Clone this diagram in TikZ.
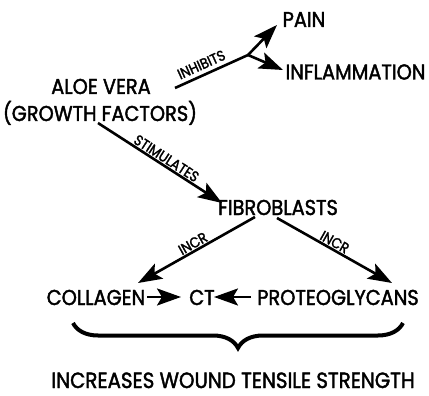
\documentclass[tikz,border=0pt]{standalone}
\usepackage{fontspec}
\setmainfont[FakeStretch=0.9,FakeBold=1.8]{Poppins}
\usetikzlibrary{arrows.meta,decorations.pathreplacing}
\tikzset{myhead/.tip={Stealth[length=24pt,width=17pt,inset=5pt]}}
\begin{document}
\begin{tikzpicture}[x=1pt,y=-1pt,
  lbl/.style={font=\fontsize{21.5}{23}\selectfont, inner sep=0pt, anchor=base},
  big/.style={font=\fontsize{22}{24}\selectfont, inner sep=0pt, anchor=base},
  tag/.style={font=\fontsize{14.5}{15}\selectfont, inner sep=1pt, sloped, above},
  arr/.style={line width=2.6pt, -myhead},
  brc/.style={line width=4pt, decorate, decoration={brace, mirror, amplitude=25pt, aspect=0.5}},
]
\useasboundingbox (0,0) rectangle (429,396);
% texts
\node[lbl] (pain) at (304,27) {PAIN};
\node[lbl] (infl) at (355.5,79.5) {INFLAMMATION};
\node[lbl] (aloe) at (101,94) {ALOE VERA};
\node[lbl] (growth) at (100,121) {(GROWTH FACTORS)};
\node[lbl] (fibro) at (278,215) {FIBROBLASTS};
\node[lbl] (coll) at (96,305) {COLLAGEN};
\node[lbl] (ct) at (202,305) {CT};
\node[lbl] (proteo) at (338,305) {PROTEOGLYCANS};
\node[big] (incr) at (233,388) {INCREASES WOUND TENSILE STRENGTH};
% connector points
\coordinate (inhA) at (175,88);
\coordinate (br) at (248,55);
\coordinate (painT) at (277,25);
\coordinate (inflT) at (283,70);
\coordinate (stA) at (98,123);
\coordinate (stB) at (222,203);
\coordinate (lA) at (255,217);
\coordinate (lB) at (138,283);
\coordinate (rA) at (277,218);
\coordinate (rB) at (392,283);
\coordinate (cA) at (147,297);
\coordinate (cB) at (181,297);
\coordinate (pA) at (251,297);
\coordinate (pB) at (214,297);
\coordinate (bL) at (73,323);
\coordinate (bR) at (403,323);
% arrows
\draw[line width=2.6pt] (inhA) -- node[tag, pos=0.42, above=3pt] {INHIBITS} (br);
\draw[arr] (br) -- (painT);
\draw[arr] (br) -- (inflT);
\draw[arr] (stA) -- node[tag, pos=0.52] {STIMULATES} (stB);
\draw[arr] (lA) -- node[tag, pos=0.5] {INCR} (lB);
\draw[arr] (rA) -- node[tag, pos=0.47] {INCR} (rB);
\draw[arr] (cA) -- (cB);
\draw[arr] (pA) -- (pB);
\draw[brc] (bL) -- (bR);
\end{tikzpicture}
\end{document}
